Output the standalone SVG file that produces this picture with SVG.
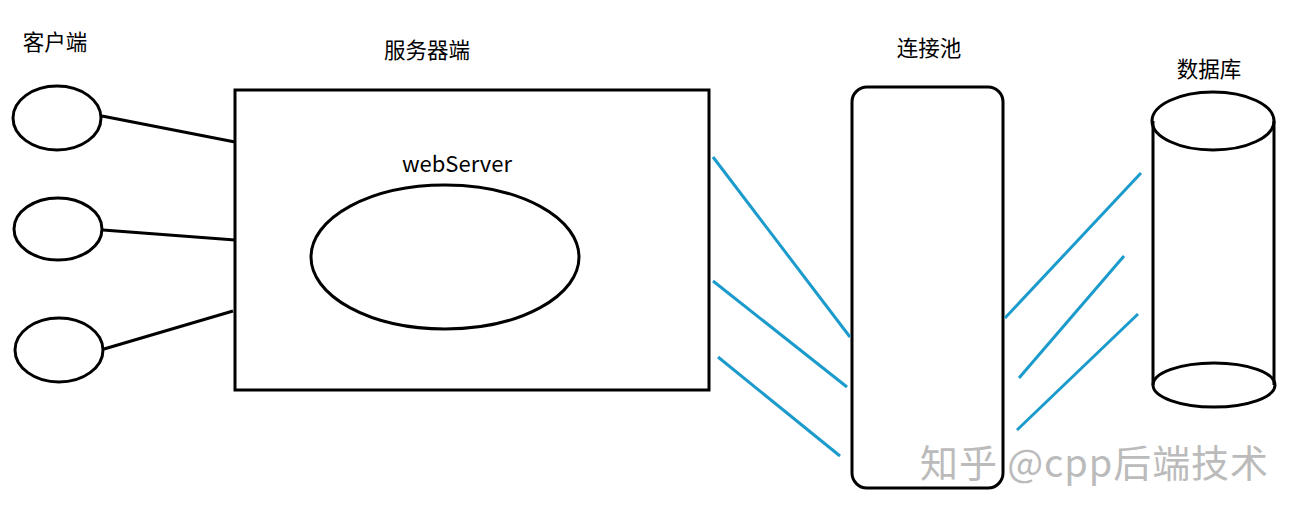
<svg xmlns="http://www.w3.org/2000/svg" width="1300" height="521" viewBox="0 0 1300 521">
<style>
.k{fill:none;stroke:#000;stroke-width:3}
.b{fill:none;stroke:#1b9bcc;stroke-width:3}
.t{font-family:"Microsoft YaHei","Noto Sans CJK SC",sans-serif;font-size:21.5px;fill:#000;text-anchor:middle}
.w{font-family:"Noto Sans CJK SC",sans-serif;font-size:38px;fill:#bbb;text-anchor:start}
</style>
<rect width="1300" height="521" fill="#fff"/>
<text class="t" x="55" y="50">客户端</text>
<text class="t" x="427" y="58">服务器端</text>
<text class="t" x="929" y="56">连接池</text>
<text class="t" x="1209" y="77">数据库</text>
<g id="client1"><ellipse class="k" cx="57" cy="118" rx="44" ry="32"/></g>
<g id="client2"><ellipse class="k" cx="58" cy="229" rx="44" ry="31"/></g>
<g id="client3"><ellipse class="k" cx="59" cy="350" rx="44" ry="32"/></g>
<g id="server"><rect class="k" x="235" y="90" width="474" height="300"/>
<text class="t" x="457" y="172" style="font-size:22px">webServer</text>
<ellipse class="k" cx="445" cy="257" rx="134" ry="72"/></g>
<g id="pool"><rect class="k" x="852" y="87" width="151" height="401" rx="15"/></g>
<g id="database">
<path class="k" d="M1153 121 V385 M1274 121 V385"/>
<ellipse class="k" cx="1213" cy="121" rx="61" ry="29" fill="#fff"/>
<ellipse class="k" cx="1214" cy="385" rx="61" ry="22"/>
</g>
<g id="connectors">
<line class="k" x1="102" y1="116" x2="235" y2="142"/>
<line class="k" x1="103" y1="230" x2="235" y2="240"/>
<line class="k" x1="104" y1="349" x2="233" y2="311"/>
<line class="b" x1="713" y1="157" x2="850" y2="337"/>
<line class="b" x1="713" y1="281" x2="847" y2="387"/>
<line class="b" x1="718" y1="357" x2="840" y2="456"/>
<line class="b" x1="1005" y1="318" x2="1141" y2="173"/>
<line class="b" x1="1019" y1="378" x2="1124" y2="256"/>
<line class="b" x1="1017" y1="430" x2="1138" y2="314"/>
</g>
<text class="w" x="920" y="477" textLength="348" lengthAdjust="spacing">知乎 @cpp后端技术</text>
</svg>
